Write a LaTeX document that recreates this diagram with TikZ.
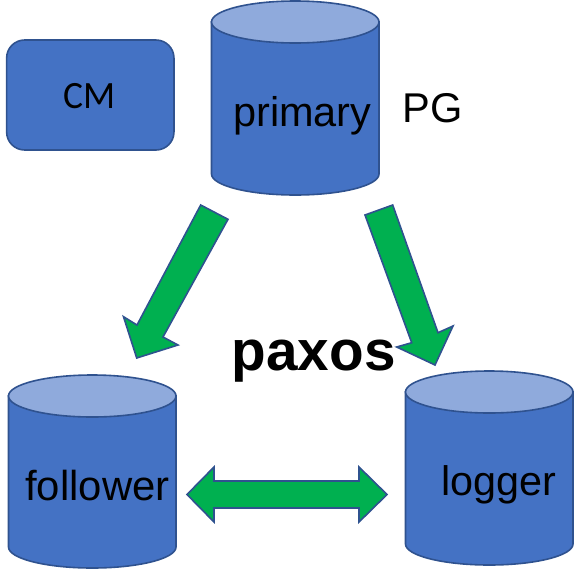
\documentclass[tikz,border=0pt]{standalone}
\usepackage{fontspec}
\setmainfont{Liberation Sans}
\newfontfamily\cmfont{Carlito}
\definecolor{dbfill}{HTML}{4472C4}
\definecolor{dbtop}{HTML}{8FAADC}
\definecolor{dbline}{HTML}{2F528F}
\definecolor{arrowgreen}{HTML}{00B050}
% #1 left x, #2 right x, #3 ellipse centre y, #4 side bottom y
\newcommand{\dbcylinder}[4]{%
  \pgfmathsetmacro{\cxx}{(#1+#2)/2}%
  \pgfmathsetmacro{\rxx}{(#2-#1)/2}%
  \draw[dbshape,fill=dbfill] (#1,#3) -- (#1,#4) arc[start angle=180,end angle=360,x radius=\rxx,y radius=-21] -- (#2,#3) -- cycle;
  \draw[dbshape,fill=dbtop] (\cxx,#3) ellipse[x radius=\rxx,y radius=21];
}
\tikzset{
  dbshape/.style={draw=dbline,line width=1.2pt},
  greenarrow/.style={draw=dbline,line width=1.2pt,fill=arrowgreen,line join=miter},
  label30/.style={anchor=base west,inner sep=0pt,text=black},
}
\begin{document}
\begin{tikzpicture}[x=0.75pt,y=-0.75pt]
\useasboundingbox (0,0) rectangle (581,568);
\node[draw=dbline,line width=1.2pt,fill=dbfill,rounded corners=13.5pt,minimum width=125.5pt,minimum height=82.5pt,inner sep=0pt,outer sep=0pt] (cmbox) at (90.3,95) {};
\dbcylinder{211.5}{379}{22}{174}
\dbcylinder{8.5}{176}{396}{547}
\dbcylinder{405.5}{573}{392}{544}
\draw[greenarrow] (200.7,205) -- (228,219.3) -- (163,337) -- (178,345) -- (136.7,358) -- (123.5,316.7) -- (137,325) -- cycle;
\draw[greenarrow] (365,215) -- (392.7,205) -- (438,332.7) -- (453,326) -- (435,365) -- (396.7,347) -- (411.7,342.7) -- cycle;
\draw[greenarrow] (187,494.5) -- (214,467) -- (214,481) -- (359,481) -- (359,467) -- (387,494.5) -- (359,522) -- (359,508) -- (214,508) -- (214,522) -- cycle;
\node[anchor=base,inner sep=0pt,xscale=0.97,font=\cmfont\fontsize{29}{34}\selectfont] (cm) at (89.5,108) {CM};
\node[label30,font=\fontsize{31.1}{36}\selectfont] (primary) at (233,126) {primary};
\node[label30,font=\fontsize{31.2}{36}\selectfont] (pg) at (402.5,122) {PG};
\node[label30,font=\fontsize{31.4}{36}\selectfont] (follower) at (25,500) {follower};
\node[label30,font=\fontsize{31}{36}\selectfont] (logger) at (441.5,495) {logger};
\node[anchor=base west,inner sep=0pt,font=\bfseries\fontsize{42.5}{50}\selectfont] (paxos) at (231.5,370) {paxos};
\end{tikzpicture}
\end{document}
